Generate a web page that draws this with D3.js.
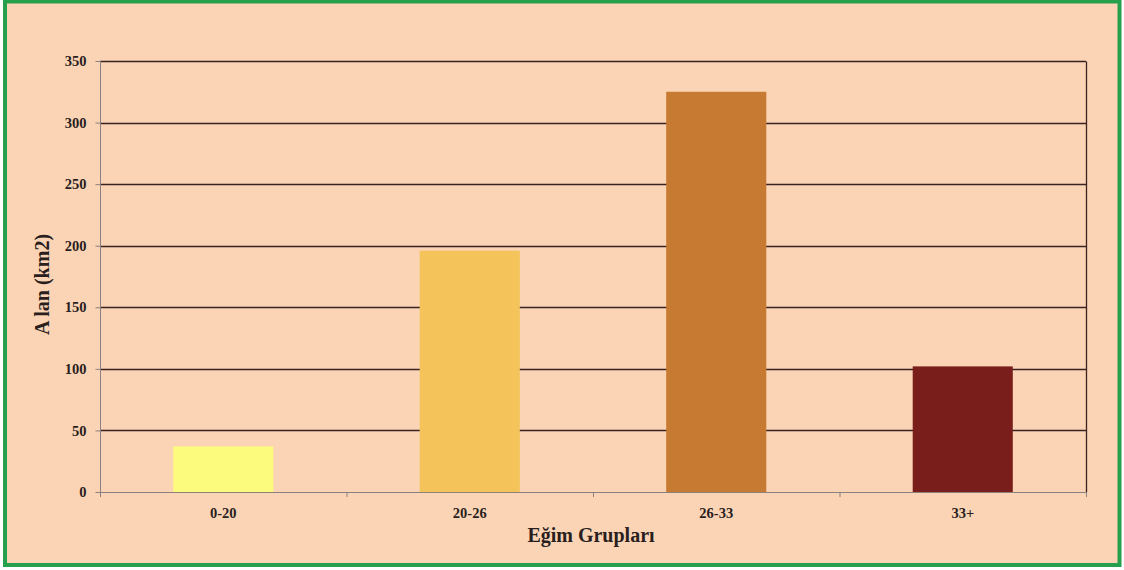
<!DOCTYPE html>
<html>
<head>
<meta charset="utf-8">
<script src="https://cdn.jsdelivr.net/npm/d3@7"></script>
<style>
  html, body { margin: 0; padding: 0; background: #ffffff; }
  svg { display: block; }
</style>
</head>
<body>
<svg id="chart" width="1124" height="570"></svg>
<script>
// Area per slope group
const categories = ["0-20", "20-26", "26-33", "33+"];
const values = [37, 196, 325, 102];
const barColors = ["#FDFB7E", "#F4C45A", "#C77A32", "#7A1E1B"];
const yTicks = [0, 50, 100, 150, 200, 250, 300, 350];
const yTitle = "A lan (km2)";
const xTitle = "Eğim Grupları";

const svg = d3.select("#chart");
const plot = { left: 100, right: 1086, top: 61, bottom: 492 };

// Frame: peach panel with a green border
svg.append("rect")
  .attr("x", 5).attr("y", 1.5)
  .attr("width", 1114.5).attr("height", 563.5)
  .attr("fill", "#FAD4B4")
  .attr("stroke", "#27A04E")
  .attr("stroke-width", 4);

const x = d3.scaleBand()
  .domain(categories)
  .range([plot.left, plot.right])
  .paddingInner(0.594)
  .paddingOuter(0.297);

const xb = d3.scaleBand()
  .domain(categories)
  .range([plot.left, plot.right]);

const y = d3.scaleLinear()
  .domain([0, 350])
  .range([plot.bottom, plot.top]);

const font = "'Liberation Serif', 'Times New Roman', serif";

// Horizontal gridlines
svg.append("g")
  .selectAll("line")
  .data(yTicks.filter(d => d > 0))
  .join("line")
  .attr("x1", plot.left).attr("x2", plot.right)
  .attr("y1", d => Math.round(y(d)) + 0.5)
  .attr("y2", d => Math.round(y(d)) + 0.5)
  .attr("stroke", "#3B2222")
  .attr("stroke-width", 1.3);

// Right edge of the plot area
svg.append("line")
  .attr("x1", plot.right + 0.5).attr("x2", plot.right + 0.5)
  .attr("y1", Math.round(y(350)) + 0.5).attr("y2", plot.bottom)
  .attr("stroke", "#3B2222")
  .attr("stroke-width", 1.3);

// Bars
svg.append("g")
  .selectAll("rect")
  .data(categories)
  .join("rect")
  .attr("x", d => x(d))
  .attr("width", x.bandwidth())
  .attr("y", (d, i) => y(values[i]))
  .attr("height", (d, i) => plot.bottom - y(values[i]))
  .attr("fill", (d, i) => barColors[i]);

// Y axis
const yAxis = svg.append("g")
  .attr("transform", `translate(${plot.left + 0.5},0)`)
  .call(d3.axisLeft(y).tickValues(yTicks).tickSize(5).tickPadding(9).tickFormat(d3.format("d")));
yAxis.select(".domain").attr("stroke", "#8A8080").attr("d", `M0,${plot.top}V${plot.bottom}`);
yAxis.selectAll(".tick line").attr("stroke", "#8A8080");
yAxis.selectAll(".tick text")
  .attr("font-family", font).attr("font-weight", "bold")
  .attr("font-size", 14.5).attr("fill", "#2A1E1E");

// X axis
const xAxis = svg.append("g")
  .attr("transform", `translate(0,${plot.bottom + 0.5})`)
  .call(d3.axisBottom(x).tickSize(0).tickPadding(15));
xAxis.select(".domain").attr("stroke", "#8A8080").attr("d", `M${plot.left},0H${plot.right}`);
xAxis.selectAll(".tick text")
  .attr("font-family", font).attr("font-weight", "bold")
  .attr("font-size", 14.5).attr("fill", "#2A1E1E");

// Separator ticks between category bands
svg.append("g")
  .selectAll("line")
  .data(categories)
  .join("line")
  .attr("x1", d => xb(d) + 0.5).attr("x2", d => xb(d) + 0.5)
  .attr("y1", plot.bottom).attr("y2", plot.bottom + 5)
  .attr("stroke", "#8A8080");
svg.append("line")
  .attr("x1", plot.right + 0.5).attr("x2", plot.right + 0.5)
  .attr("y1", plot.bottom).attr("y2", plot.bottom + 5)
  .attr("stroke", "#8A8080");

// Axis titles
svg.append("text")
  .attr("transform", `translate(49,${(plot.top + plot.bottom) / 2 + 8}) rotate(-90)`)
  .attr("text-anchor", "middle")
  .attr("font-family", font).attr("font-weight", "bold")
  .attr("font-size", 20).attr("fill", "#2A1E1E")
  .text(yTitle);

svg.append("text")
  .attr("x", 591).attr("y", 542)
  .attr("text-anchor", "middle")
  .attr("font-family", font).attr("font-weight", "bold")
  .attr("font-size", 20).attr("fill", "#2A1E1E")
  .text(xTitle);
</script>
</body>
</html>
